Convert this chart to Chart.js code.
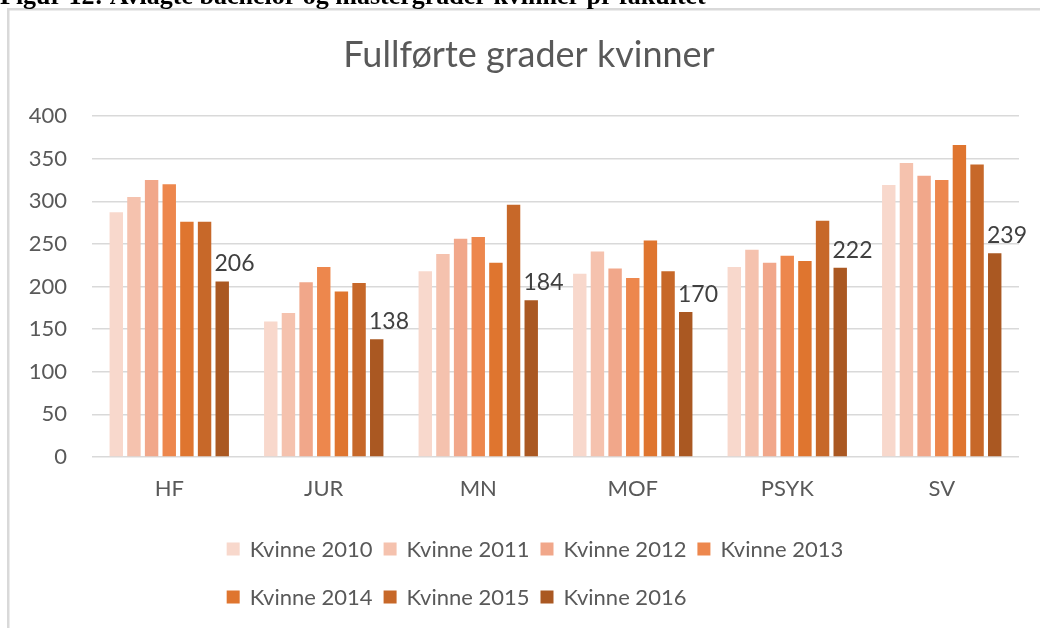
<!DOCTYPE html>
<html lang="no">
<head>
    <meta charset="UTF-8">
    <title>Fullførte grader kvinner</title>
    <script src="https://cdn.jsdelivr.net/npm/chart.js@4.4.0/dist/chart.umd.min.js"></script>
    <style>
        body { margin: 0; background: #fff; }
        .wrap { position: relative; width: 1040px; height: 628px; }
    </style>
</head>
<body>
<div class="wrap"><canvas id="barchart" width="1040" height="628"></canvas></div>
<script>
    // faculties and completed degrees (women) per year
    const faculties = ['HF', 'JUR', 'MN', 'MOF', 'PSYK', 'SV'];
    const years = ['Kvinne 2010', 'Kvinne 2011', 'Kvinne 2012', 'Kvinne 2013', 'Kvinne 2014', 'Kvinne 2015', 'Kvinne 2016'];
    const k2010 = [287, 159, 218, 215, 223, 319];
    const k2011 = [305, 169, 238, 241, 243, 345];
    const k2012 = [325, 205, 256, 221, 228, 330];
    const k2013 = [320, 223, 258, 210, 236, 325];
    const k2014 = [276, 194, 228, 254, 230, 366];
    const k2015 = [276, 204, 296, 218, 277, 343];
    const k2016 = [206, 138, 184, 170, 222, 239];
    const yTicks = [0, 50, 100, 150, 200, 250, 300, 350, 400];

    const chartTitle = 'Fullførte grader kvinner';
    const caption = 'Figur 12: Avlagte bachelor og mastergrader kvinner pr fakultet';

    const colors = ['#f8d8cc', '#f5c2ae', '#f1a78a', '#ed874d', '#df752f', '#c76829', '#aa5822'];
    const FONT = 'Lato, "Open Sans", sans-serif';
    const GREY = '#595959';

    // caption above the chart frame, the frame itself and the chart title
    const framePlugin = {
        id: 'frame',
        beforeDraw(chart) {
            const ctx = chart.ctx;
            ctx.save();
            ctx.fillStyle = '#d9d9d9';
            ctx.fillRect(7, 8, 1040, 2.5);
            ctx.fillRect(7, 8, 2.5, 628);
            ctx.fillStyle = '#000';
            ctx.font = 'bold 26px "Liberation Serif", "Times New Roman", serif';
            ctx.textBaseline = 'alphabetic';
            ctx.textAlign = 'left';
            ctx.fillText(caption, 0, 4);
            // title is centred on the whole frame, not on the plot area
            ctx.fillStyle = GREY;
            ctx.font = '36px ' + FONT;
            ctx.textAlign = 'center';
            ctx.fillText(chartTitle, 529, 67);
            ctx.restore();
        }
    };

    // value labels only on the 2016 series
    const labelPlugin = {
        id: 'lastLabels',
        afterDatasetsDraw(chart) {
            const ctx = chart.ctx;
            const idx = chart.data.datasets.length - 1;
            const meta = chart.getDatasetMeta(idx);
            ctx.save();
            ctx.font = '23px ' + FONT;
            ctx.fillStyle = '#404040';
            ctx.textAlign = 'left';
            ctx.textBaseline = 'alphabetic';
            meta.data.forEach((bar, i) => {
                const v = chart.data.datasets[idx].data[i];
                ctx.fillText(String(v), bar.x - bar.width / 2 - 1, bar.y - 10);
            });
            ctx.restore();
        }
    };

    // two-row legend like the Excel one
    const legendPlugin = {
        id: 'rowLegend',
        afterDraw(chart) {
            const ctx = chart.ctx;
            const sets = chart.data.datasets;
            const rows = [[0, 1, 2, 3], [4, 5, 6]];
            const rowY = [549, 597];
            const box = 13, gap = 10, space = 11;
            ctx.save();
            ctx.font = '22px ' + FONT;
            ctx.textBaseline = 'middle';
            ctx.textAlign = 'left';
            const widths = rows.map(r => r.reduce((w, i) => w + box + gap + ctx.measureText(sets[i].label).width + space, -space));
            const left = 535 - Math.max(...widths) / 2;
            rows.forEach((r, ri) => {
                let x = left;
                r.forEach(i => {
                    ctx.fillStyle = sets[i].backgroundColor;
                    ctx.fillRect(x, rowY[ri] - box / 2, box, box);
                    ctx.fillStyle = GREY;
                    ctx.fillText(sets[i].label, x + box + gap, rowY[ri] + 1);
                    x += box + gap + ctx.measureText(sets[i].label).width + space;
                });
            });
            ctx.restore();
        }
    };

    const series = [k2010, k2011, k2012, k2013, k2014, k2015, k2016];
    const cdata = {
        labels: faculties,
        datasets: series.map((d, i) => ({
            label: years[i],
            data: d,
            backgroundColor: colors[i],
            borderWidth: 0,
            categoryPercentage: 0.8,
            barPercentage: 0.76
        }))
    };

    const config = {
        type: 'bar',
        data: cdata,
        options: {
            responsive: false,
            animation: false,
            layout: { padding: { left: 0, right: 21, top: 116, bottom: 111 } },
            plugins: {
                legend: { display: false },
                tooltip: { enabled: false },
                title: { display: false }
            },
            scales: {
                x: {
                    grid: { display: false, drawTicks: false },
                    border: { display: false },
                    ticks: { color: GREY, font: { family: FONT, size: 22 }, padding: 19 },
                    afterFit(scale) { scale.height = 60; }
                },
                y: {
                    min: 0,
                    max: 400,
                    grid: { color: '#d9d9d9', lineWidth: 1.5, drawTicks: false },
                    border: { display: false },
                    afterBuildTicks(scale) { scale.ticks = yTicks.map(v => ({ value: v })); },
                    ticks: { color: GREY, font: { family: FONT, size: 22 }, padding: 25 },
                    afterFit(scale) { scale.width = 92; }
                }
            }
        },
        plugins: [framePlugin, labelPlugin, legendPlugin]
    };

    const myChart = new Chart(document.getElementById('barchart'), config);
</script>
</body>
</html>
